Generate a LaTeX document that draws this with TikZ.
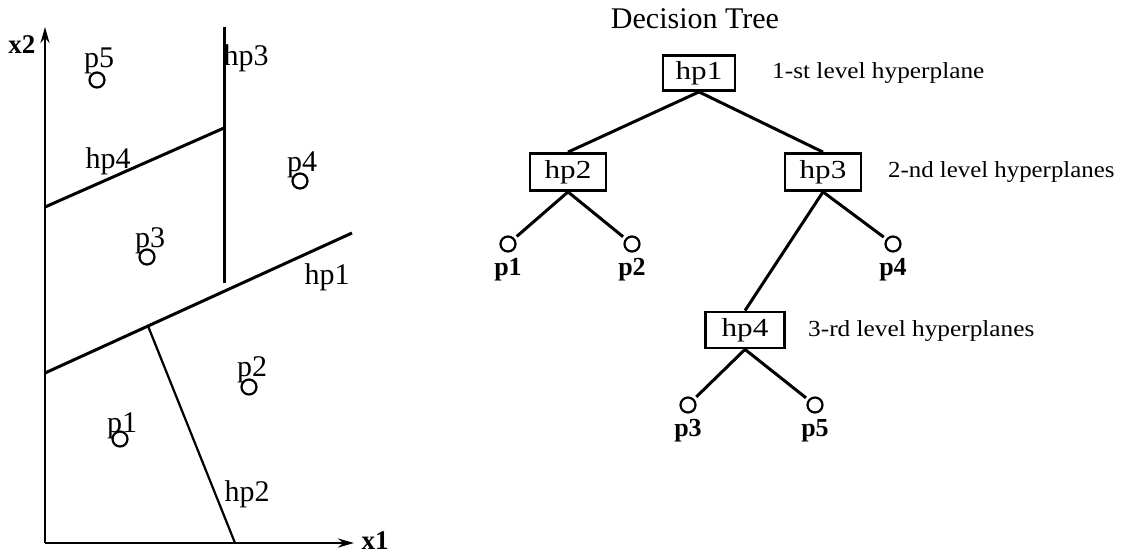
\documentclass[tikz,border=0pt]{standalone}
\usepackage{graphicx}
\usepackage{fontspec}
\setmainfont{Liberation Serif}
\usetikzlibrary{arrows.meta}
\newcommand{\hstr}[2]{\scalebox{#1}[1]{#2}}
\begin{document}
\begin{tikzpicture}[x=1pt,y=-1pt,
  plotline/.style={line width=3pt},
  thinline/.style={line width=2.2pt},
  axisline/.style={line width=2.6pt,-{Stealth[length=16pt,width=9pt]}},
  ptcircle/.style={circle,draw,line width=2.2pt,minimum size=15pt,inner sep=0pt},
  ptlab/.style={font=\fontsize{30}{32}\selectfont,inner sep=0pt},
  axlab/.style={font=\fontsize{27}{30}\selectfont\bfseries,inner sep=0pt},
  hbox/.style={draw,line width=2.8pt,minimum width=76pt,minimum height=37pt,inner sep=0pt,font=\fontsize{26}{28}\selectfont},
  leveltxt/.style={anchor=west,inner sep=0pt,font=\fontsize{23}{26}\selectfont},
  leaf/.style={circle,draw,line width=2.2pt,minimum size=15pt,inner sep=0pt,outer sep=4pt},
  leaflab/.style={inner sep=0pt,font=\fontsize{26}{28}\selectfont\bfseries},
  edge/.style={line width=3pt},
  titletxt/.style={inner sep=0pt,font=\fontsize{30}{32}\selectfont}
]
\useasboundingbox (0,0) rectangle (1121,556);
% ---------- left: feature space ----------
\coordinate (O) at (45,543);
\coordinate (ytip) at (45,27);
\coordinate (xtip) at (354,543);
\draw[axisline] (O) -- (ytip);
\draw[axisline] (O) -- (xtip);
\node[axlab] (x2lab) at (22,45) {x2};
\node[axlab] (x1lab) at (375,541) {x1};

\coordinate (hp3a) at (224,27);
\coordinate (hp3b) at (224,283);
\coordinate (hp4a) at (45,207);
\coordinate (hp4b) at (224,128);
\coordinate (hp1a) at (45,373);
\coordinate (hp1b) at (352,233);
\coordinate (hp2a) at (148,326);
\coordinate (hp2b) at (235,543);
\draw[plotline] (hp3a) -- (hp3b);
\draw[plotline] (hp4a) -- (hp4b);
\draw[plotline] (hp1a) -- (hp1b);
\draw[thinline] (hp2a) -- (hp2b);

\node[ptlab] (hp3lab) at (246,58) {hp3};
\node[ptlab] (hp4lab) at (108,161) {hp4};
\node[ptlab] (hp1lab) at (327,277) {hp1};
\node[ptlab] (hp2lab) at (247,494) {hp2};

\node[ptcircle] (c5) at (97,80) {};
\node[ptlab] (t5) at (99,61) {p5};
\node[ptcircle] (c4) at (300,181) {};
\node[ptlab] (t4) at (302,165) {p4};
\node[ptcircle] (c3) at (147,257) {};
\node[ptlab] (t3) at (150,241) {p3};
\node[ptcircle] (c2) at (249,387) {};
\node[ptlab] (t2) at (252,370) {p2};
\node[ptcircle] (c1) at (120,439) {};
\node[ptlab] (t1) at (122,426) {p1};

% ---------- right: decision tree ----------
\node[titletxt] (title) at (695,19) {Decision Tree};
\node[hbox,minimum width=72pt,minimum height=35pt] (h1) at (699,73) {\hstr{1.2}{hp1}};
\node[leveltxt] (lv1) at (772,73) {\hstr{1.1}{1-st level hyperplane}};
\node[hbox] (h2) at (568,172) {\hstr{1.2}{hp2}};
\node[hbox] (h3) at (823,172) {\hstr{1.2}{hp3}};
\node[leveltxt] (lv2) at (888,172) {\hstr{1.08}{2-nd level hyperplanes}};
\node[hbox,minimum width=79pt,minimum height=36pt] (h4) at (745,330) {\hstr{1.2}{hp4}};
\node[leveltxt] (lv3) at (808,331) {\hstr{1.1}{3-rd level hyperplanes}};

\node[leaf] (l1) at (508,244) {};
\node[leaflab] (n1) at (508,270) {p1};
\node[leaf] (l2) at (632,244) {};
\node[leaflab] (n2) at (632,270) {p2};
\node[leaf] (l4) at (893,244) {};
\node[leaflab] (n4) at (893,270) {p4};
\node[leaf] (l3) at (688,405) {};
\node[leaflab] (n3) at (688,431) {p3};
\node[leaf] (l5) at (815,405) {};
\node[leaflab] (n5) at (815,431) {p5};

\draw[edge] (h1.south) -- (h2.north);
\draw[edge] (h1.south) -- (h3.north);
\draw[edge] (h2.south) -- (l1);
\draw[edge] (h2.south) -- (l2);
\draw[edge] (h3.south) -- (h4.north);
\draw[edge] (h3.south) -- (l4);
\draw[edge] (h4.south) -- (l3);
\draw[edge] (h4.south) -- (l5);
\end{tikzpicture}
\end{document}
